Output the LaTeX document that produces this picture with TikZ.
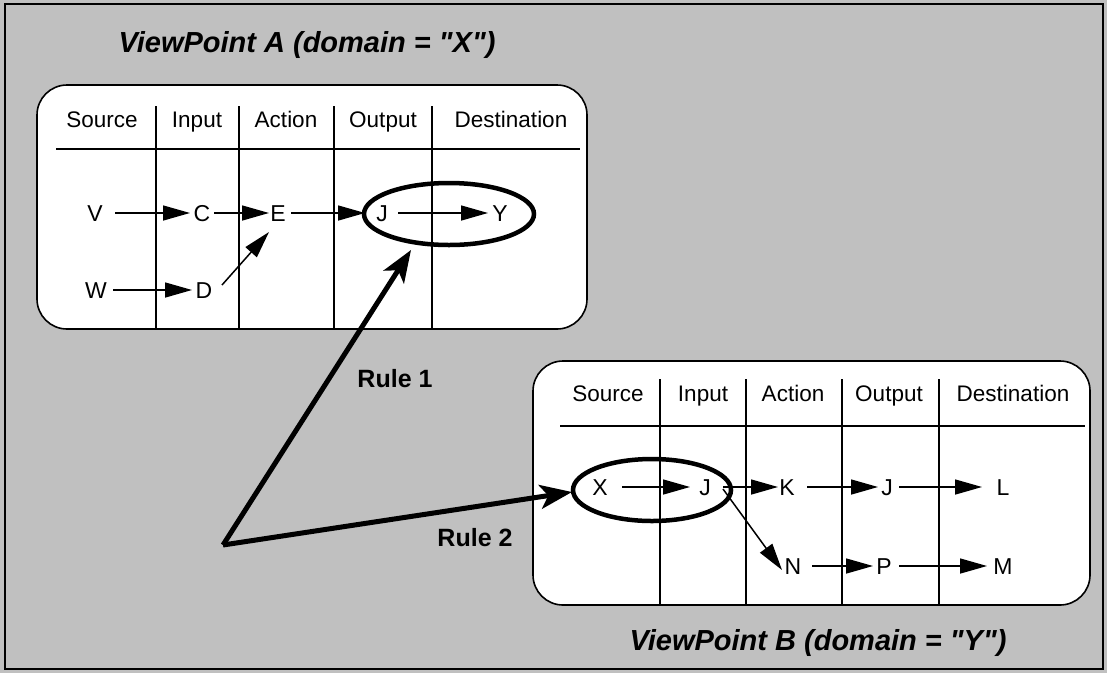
\documentclass[tikz,border=0pt]{standalone}
\usepackage{fontspec}
\setmainfont{Liberation Sans}[Ligatures=TeXOff]
\usetikzlibrary{arrows.meta}
\definecolor{bggray}{HTML}{C0C0C0}
\begin{document}
\begin{tikzpicture}[x=1pt,y=-1pt,
  lbl/.style={font=\fontsize{23}{27}\selectfont, inner sep=0pt, text height=16.5pt, text depth=0pt, anchor=center},
  hdr/.style={font=\fontsize{22.5}{27}\selectfont, inner sep=0pt, anchor=base},
  ttl/.style={font=\fontsize{29}{34}\selectfont\bfseries\itshape, inner sep=0pt, anchor=base},
  rulelbl/.style={font=\fontsize{25}{30}\selectfont\bfseries, inner sep=0pt, anchor=base},
  vpbox/.style={draw=black, fill=white, line width=1.6pt, rounded corners=30pt},
  gridline/.style={line width=1.4pt},
  flow/.style={line width=1.5pt, -{Triangle[length=27pt,width=15pt]}},
  ring/.style={draw=black, line width=4.5pt},
  rulearrow/.style={line width=5pt, line join=round, -{Stealth[length=32pt,width=24pt,inset=8pt]}}]
\useasboundingbox (0,0) rectangle (1107,673);
\fill[bggray] (0,0) rectangle (1107,673);
\draw[line width=2pt] (5,4) rectangle (1103,669);

% ---------- ViewPoint A ----------
\node[ttl] (tA) at (307,52) {ViewPoint A (domain = "X")};
\draw[vpbox] (37,85) rectangle (587,329);
\draw[gridline] (56,149) -- (580,149);
\foreach \x in {156,239,334,432} \draw[gridline] (\x,106) -- (\x,329);
\node[hdr] (hA1) at (102,127) {Source};
\node[hdr] (hA2) at (197,127) {Input};
\node[hdr] (hA3) at (286,127) {Action};
\node[hdr] (hA4) at (383,127) {Output};
\node[hdr] (hA5) at (511,127) {Destination};

\node[lbl] (V) at (95,213) {V};
\node[lbl] (C) at (202,213) {C};
\node[lbl] (E) at (278,213) {E};
\node[lbl] (JA) at (382,213) {J};
\node[lbl] (Y) at (500,213) {Y};
\node[lbl] (W) at (96,290) {W};
\node[lbl] (D) at (204,290) {D};

\draw[flow] ([xshift=20pt]V.center) -- ([xshift=-12pt]C.center);
\draw[flow] ([xshift=12pt]C.center) -- ([xshift=-9pt]E.center);
\draw[flow] ([xshift=13pt]E.center) -- ([xshift=-17pt]JA.center);
\draw[flow] ([xshift=16pt]JA.center) -- ([xshift=-12pt]Y.center);
\draw[flow] ([xshift=17pt]W.center) -- ([xshift=-12pt]D.center);
\draw[flow] ([shift={(18pt,5pt)}]D.center) -- ([shift={(-9pt,-19pt)}]E.center);

\draw[ring] (449,214) ellipse [x radius=85, y radius=31];
\coordinate (ringA) at (411,250);

% ---------- ViewPoint B ----------
\draw[vpbox] (533,361) rectangle (1090,605);
\draw[gridline] (560,426) -- (1085,426);
\foreach \x in {660,746,842,939} \draw[gridline] (\x,379) -- (\x,605);
\node[hdr] (hB1) at (608,401) {Source};
\node[hdr] (hB2) at (703,401) {Input};
\node[hdr] (hB3) at (793,401) {Action};
\node[hdr] (hB4) at (889,401) {Output};
\node[hdr] (hB5) at (1013,401) {Destination};

\node[lbl] (X) at (600,487) {X};
\node[lbl] (JB) at (705,487) {J};
\node[lbl] (K) at (787,487) {K};
\node[lbl] (JC) at (887,487) {J};
\node[lbl] (L) at (1003,487) {L};
\node[lbl] (N) at (793,566) {N};
\node[lbl] (P) at (884,566) {P};
\node[lbl] (M) at (1003,566) {M};

\draw[flow] ([xshift=22pt]X.center) -- ([xshift=-15pt]JB.center);
\draw[flow] ([xshift=18pt]JB.center) -- ([xshift=-9pt]K.center);
\draw[flow] ([xshift=20pt]K.center) -- ([xshift=-9pt]JC.center);
\draw[flow] ([xshift=12pt]JC.center) -- ([xshift=-21pt]L.center);
\draw[flow] ([shift={(18pt,-2pt)}]JB.center) -- ([shift={(-11pt,-4pt)}]N.center);
\draw[flow] ([xshift=19pt]N.center) -- ([xshift=-11pt]P.center);
\draw[flow] ([xshift=15pt]P.center) -- ([xshift=-16pt]M.center);

\draw[ring] (652,490) ellipse [x radius=79, y radius=31];
\coordinate (ringB) at (572,492);

\node[ttl] (tB) at (818,650) {ViewPoint B (domain = "Y")};

% ---------- Rules ----------
\coordinate (apex) at (223,545);
\draw[rulearrow] (apex) -- (ringA);
\draw[rulearrow] (apex) -- (ringB);
\node[rulelbl] (r1) at (395,387) {Rule 1};
\node[rulelbl] (r2) at (475,546) {Rule 2};
\end{tikzpicture}
\end{document}
